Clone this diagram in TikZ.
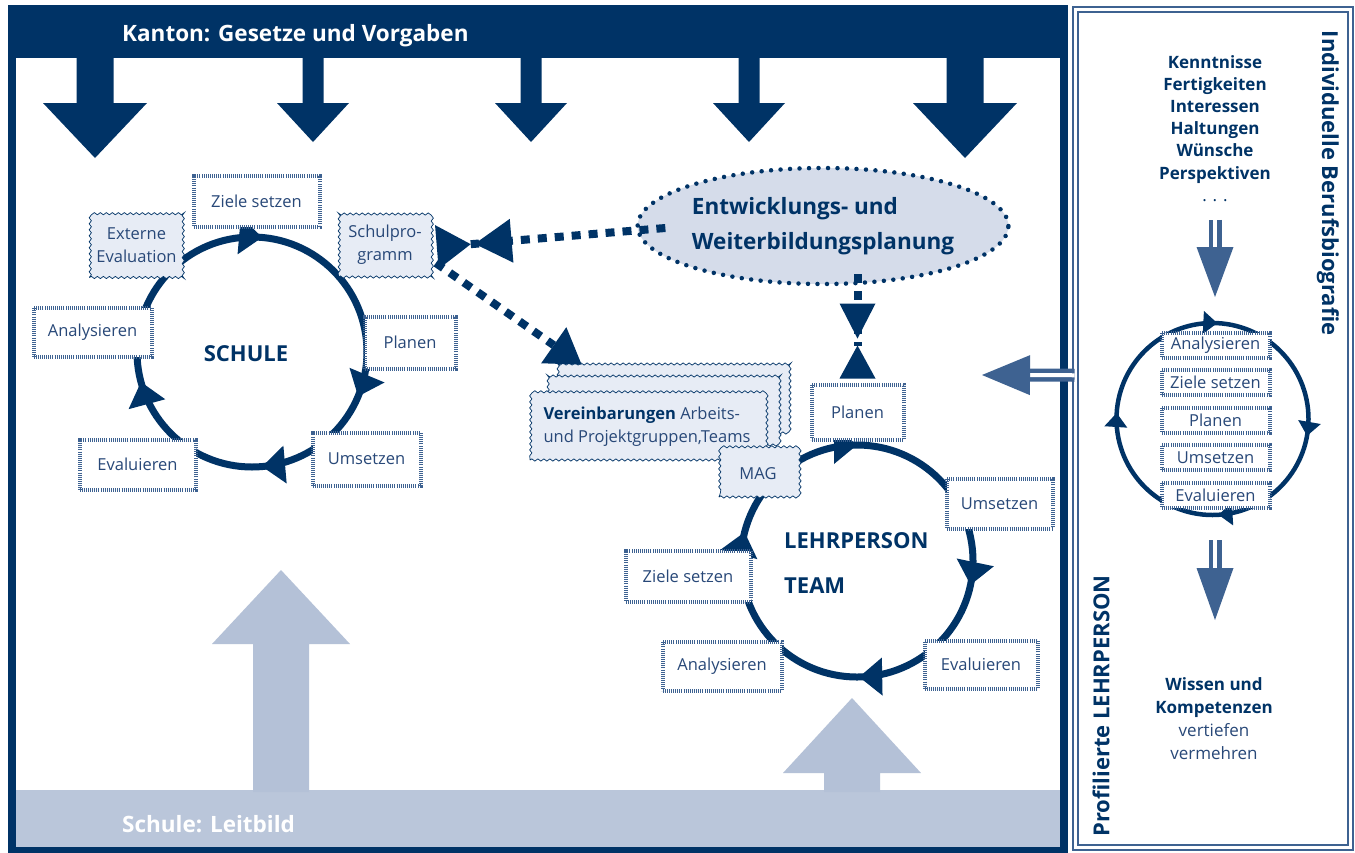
\documentclass[tikz,border=0pt]{standalone}
\usepackage{fontspec}
\setmainfont{Open Sans}
\usetikzlibrary{positioning,calc,arrows.meta,decorations.pathmorphing,decorations.markings,shapes.geometric}
\definecolor{navy}{RGB}{0,51,102}
\definecolor{textblue}{RGB}{40,72,120}
\definecolor{midblue}{RGB}{62,98,145}
\definecolor{wavefill}{RGB}{231,236,245}
\definecolor{ellfill}{RGB}{213,220,234}
\definecolor{pale}{RGB}{180,193,215}
\definecolor{barfill}{RGB}{186,198,218}
\begin{document}
\begin{tikzpicture}[x=1pt, y=-1pt,
        stepbox/.style = {draw=midblue, line width=4pt, dash pattern=on 1pt off 1.1pt, fill=white, text=textblue,
                          font=\fontsize{16.5}{22}\selectfont, inner sep=0pt, align=center},
        wavebox/.style = {draw=navy, line width=0.7pt, fill=wavefill, text=textblue, font=\fontsize{16.5}{23}\selectfont,
                          inner sep=0pt, align=center, decorate, decoration={snake, segment length=6pt, amplitude=1.1pt}},
        bartext/.style = {text=white, font=\bfseries\fontsize{22.5}{26}\selectfont, anchor=base west, inner sep=0pt},
        cyclabel/.style = {text=navy, font=\bfseries\fontsize{22}{26}\selectfont, inner sep=0pt},
        dasharr/.style = {draw=navy, line width=8pt, dash pattern=on 9pt off 8pt},
        dblarr/.style = {draw=midblue, line width=4.5pt, double=white, double distance=4pt},
        cyc/.style = {draw=navy, line width=7pt, postaction={decorate}},
        cyctip/.tip = {Triangle[length=23pt, width=38pt, line width=0pt]},
        smalltip/.tip = {Triangle[length=14pt, width=23pt, line width=0pt]},
    ]
    % frame, bars and block arrows
    \useasboundingbox (0,0) rectangle (1355,852);
    \fill[white] (0,0) rectangle (1355,852);
    \fill[barfill] (16,790) rectangle (1060,849);
    \fill[pale] (253,792) -- (253,644) -- (212,644) -- (281,570) -- (350,644) -- (309,644) -- (309,792) -- cycle;
    \fill[pale] (824,792) -- (824,773) -- (783,773) -- (852,698) -- (921,773) -- (880,773) -- (880,792) -- cycle;
    \draw[navy, line width=8pt] (12,30) -- (12,851) -- (1064,851) -- (1064,30);
    \fill[navy] (8,5) rectangle (1068,58);
    \node (kanton) [bartext] at (122,41) {Kanton: Gesetze und Vorgaben};
    \node (leitbild) [bartext] at (122,832) {Schule: Leitbild};
    \foreach \x in {95,965}
        \fill[navy] (\x-18.5,56) -- (\x+18.5,56) -- (\x+18.5,103) -- (\x+52,103) -- (\x,158) -- (\x-52,103) -- (\x-18.5,103) -- cycle;
    \foreach \x in {313,531,749}
        \fill[navy] (\x-10.5,56) -- (\x+10.5,56) -- (\x+10.5,103) -- (\x+36,103) -- (\x,142) -- (\x-36,103) -- (\x-10.5,103) -- cycle;

    % cycle SCHULE
    \draw[cyc, decoration={markings,
            mark=at position 0.063 with {\arrow{cyctip}},
            mark=at position 0.236 with {\arrow{cyctip}},
            mark=at position 0.458 with {\arrow{cyctip}},
            mark=at position 0.764 with {\arrow{cyctip}}}]
        (252,352) coordinate (sc) circle (115);
    \node (schule) [cyclabel, anchor=base] at (246,361) {SCHULE};
    \node (zs1) [stepbox, minimum width=126pt, minimum height=51pt] at (256.5,201) {Ziele setzen};
    \node (ext) [wavebox, minimum width=94pt, minimum height=64pt] at (136.5,245.5) {Externe\\Evaluation};
    \node (prog) [wavebox, minimum width=93pt, minimum height=64pt] at (385,245) {Schulpro-\\gramm};
    \node (an1) [stepbox, minimum width=118pt, minimum height=49pt] at (92.5,332) {Analysieren};
    \node (pl1) [stepbox, minimum width=91pt, minimum height=52pt] at (410,342.5) {Planen};
    \node (ev1) [stepbox, minimum width=116pt, minimum height=50pt] at (137.5,464.5) {Evaluieren};
    \node (um1) [stepbox, minimum width=108pt, minimum height=53pt] at (366.5,459) {Umsetzen};

    % cycle LEHRPERSON / TEAM
    \draw[cyc, decoration={markings,
            mark=at position 0.033 with {\arrow{cyctip}},
            mark=at position 0.247 with {\arrow{cyctip}},
            mark=at position 0.54 with {\arrow{cyctip}},
            mark=at position 0.75 with {\arrow{cyctip}}}]
        (857,561) coordinate (lc) circle (116);
    \node (lp) [cyclabel, anchor=base west] at (784,548) {LEHRPERSON};
    \node (team) [cyclabel, anchor=base west] at (784,593) {TEAM};
    \node (vb3) [wavebox, minimum width=235pt, minimum height=68pt] at (670.5,399) {};
    \node (vb2) [wavebox, minimum width=235pt, minimum height=67pt] at (660.5,411.5) {};
    \node (vb1) [wavebox, minimum width=234pt, minimum height=67pt, align=left] at (647,426.5)
        {\textcolor{navy}{\bfseries Vereinbarungen} Arbeits-\\und Projektgruppen,Teams};
    \node (mag) [wavebox, minimum width=78pt, minimum height=47pt] at (758,473.5) {MAG};
    \node (pl2) [stepbox, minimum width=92pt, minimum height=55pt] at (857.5,412) {Planen};
    \node (um2) [stepbox, minimum width=106pt, minimum height=50pt] at (999.5,503.5) {Umsetzen};
    \node (zs2) [stepbox, minimum width=125pt, minimum height=51pt] at (688,576) {Ziele setzen};
    \node (an2) [stepbox, minimum width=119pt, minimum height=49pt] at (722,666) {Analysieren};
    \node (ev2) [stepbox, minimum width=113pt, minimum height=48pt] at (981,664.5) {Evaluieren};

    % planning
    \node (ewp) [ellipse, draw=navy, line width=4.5pt, line cap=round, dash pattern=on 0pt off 9.5pt, fill=ellfill,
                 minimum width=366pt, minimum height=116pt, inner sep=0pt, text=navy,
                 font=\bfseries\fontsize{22.5}{35}\selectfont, align=left] at (823,226)
        {Entwicklungs- und\\Weiterbildungsplanung};
    \path[dasharr, -{Triangle[length=37pt, width=44pt, line width=0pt, sep=4pt] Triangle[reversed, length=34pt, width=44pt, line width=0pt]}]
        ($(ewp.west)+(30,2)$) -- ($(prog.east)+(5,2)$);
    \path[dasharr, -{Triangle[length=35pt, width=36pt, line width=0pt, sep=7pt] Triangle[reversed, length=33pt, width=36pt, line width=0pt]}]
        ($(ewp.south -| pl2.north)+(0,-12)$) -- ($(pl2.north)+(0,-4)$);
    \path[dasharr, -{Triangle[length=34pt, width=44pt, line width=0pt]}]
        ($(prog.east)+(4,18)$) -- ($(vb3.north west)+(29,0)$);

    % individual biography
    \node (panel) [draw=midblue, line width=2pt, double=white, double distance=3pt,
                   minimum width=274.5pt, minimum height=838.5pt] at (1212.75,428.25) {};
    \node (bio) [rotate=-90, text=navy, font=\bfseries\fontsize{22}{24}\selectfont, inner sep=0pt] at (1328,183) {Individuelle Berufsbiografie};
    \node (prof) [rotate=90, text=navy, font=\bfseries\fontsize{22}{24}\selectfont, inner sep=0pt] at (1101,706) {Profilierte LEHRPERSON};
    \node (list) [anchor=north, text=navy, font=\bfseries\fontsize{17}{22.2}\selectfont, align=center, inner sep=0pt] at (1215,55)
        {Kenntnisse\\Fertigkeiten\\Interessen\\Haltungen\\Wünsche\\Perspektiven\\{\mdseries . . .}};
    \draw[cyc, line width=4.5pt, decoration={markings,
            mark=at position 0.028 with {\arrow{smalltip}},
            mark=at position 0.24 with {\arrow{smalltip}},
            mark=at position 0.51 with {\arrow{smalltip}},
            mark=at position 0.758 with {\arrow{smalltip}}}]
        (1212.5,419) coordinate (rc) circle (96);
    \node (ra) [stepbox, minimum width=108pt, minimum height=25pt] at (1215.5,345) {Analysieren};
    \node (rz) [stepbox, minimum width=108pt, minimum height=25pt, below=8.5pt of ra] {Ziele setzen};
    \node (rp) [stepbox, minimum width=108pt, minimum height=25pt, below=8.5pt of rz] {Planen};
    \node (ru) [stepbox, minimum width=108pt, minimum height=25pt, below=8.5pt of rp] {Umsetzen};
    \node (re) [stepbox, minimum width=108pt, minimum height=25pt, below=8.5pt of ru] {Evaluieren};
    \node (wissen) [anchor=north, text=textblue, font=\fontsize{17}{23}\selectfont, align=center, inner sep=0pt] at (1214,677)
        {\textcolor{navy}{\bfseries Wissen und}\\\textcolor{navy}{\bfseries Kompetenzen}\\vertiefen\\vermehren};
    \coordinate (kup) at (1215,297);
    \coordinate (kdn1) at (1215,540);
    \coordinate (kdn2) at (1215,620);
    \coordinate (hin) at (982,375);
    \path[dblarr, -{Triangle[length=50pt, width=37pt, line width=0pt]}] ($(list.south)+(0,18)$) -- (kup);
    \path[dblarr, -{Triangle[length=52pt, width=37pt, line width=0pt]}] (kdn1) -- (kdn2);
    \path[dblarr, -{Triangle[length=48pt, width=40pt, line width=0pt]}] ($(panel.west)+(0,-53)$) -- (hin);
\end{tikzpicture}
\end{document}
